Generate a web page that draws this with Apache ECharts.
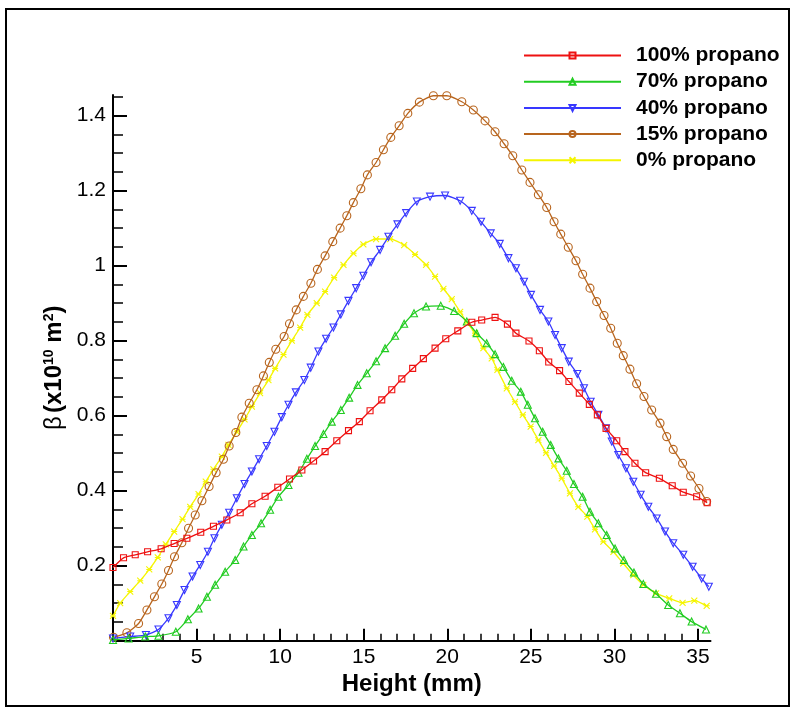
<!DOCTYPE html>
<html>
<head>
<meta charset="utf-8">
<script src="https://cdn.jsdelivr.net/npm/echarts@6/dist/echarts.min.js"></script>
<style>
html,body{margin:0;padding:0;background:#fff;}
#chart{width:795px;height:715px;}
</style>
</head>
<body>
<div id="chart"></div>
<script>
// ---- data ----
const seriesNames = ['100% propano', '70% propano', '40% propano', '15% propano', '0% propano'];

const heightRed = [0, 0.63, 1.33, 2.07, 2.88, 3.66, 4.42, 5.25, 6.01, 6.81, 7.61, 8.31, 9.1, 9.86, 10.56, 11.3, 12.0, 12.69, 13.39, 14.09, 14.74, 15.38, 16.08, 16.68, 17.28, 17.93, 18.57, 19.27, 19.91, 20.63, 21.47, 22.06, 22.86, 23.6, 24.11, 24.89, 25.51, 26.07, 26.72, 27.28, 27.9, 28.5, 28.98, 29.5, 30.14, 30.63, 31.23, 31.87, 32.69, 33.46, 34.12, 34.92, 35.55];
const betaRed = [0.195, 0.221, 0.229, 0.237, 0.245, 0.259, 0.273, 0.289, 0.305, 0.322, 0.341, 0.365, 0.385, 0.409, 0.431, 0.455, 0.479, 0.504, 0.533, 0.56, 0.584, 0.613, 0.642, 0.669, 0.698, 0.726, 0.752, 0.78, 0.805, 0.826, 0.849, 0.855, 0.862, 0.844, 0.82, 0.799, 0.773, 0.743, 0.72, 0.691, 0.66, 0.63, 0.602, 0.566, 0.533, 0.504, 0.473, 0.448, 0.433, 0.413, 0.396, 0.384, 0.368];

const heightGreen = [0, 0.93, 1.93, 2.72, 3.76, 4.48, 5.12, 5.62, 6.11, 6.71, 7.31, 7.81, 8.31, 8.86, 9.4, 9.9, 10.5, 11.1, 11.6, 12.09, 12.59, 13.09, 13.63, 14.13, 14.63, 15.18, 15.74, 16.28, 16.88, 17.42, 18.01, 18.73, 19.61, 20.41, 21.17, 21.76, 22.36, 22.86, 23.36, 23.86, 24.4, 24.82, 25.25, 25.71, 26.19, 26.65, 27.15, 27.58, 28.1, 28.54, 29.04, 29.54, 30.04, 30.57, 31.17, 31.73, 32.49, 33.22, 33.92, 34.62, 35.48];
const betaGreen = [0.002, 0.006, 0.011, 0.013, 0.024, 0.057, 0.086, 0.117, 0.149, 0.184, 0.215, 0.251, 0.282, 0.313, 0.349, 0.384, 0.415, 0.448, 0.485, 0.519, 0.551, 0.584, 0.615, 0.648, 0.682, 0.713, 0.745, 0.78, 0.813, 0.845, 0.873, 0.891, 0.893, 0.879, 0.851, 0.82, 0.793, 0.764, 0.73, 0.693, 0.664, 0.629, 0.593, 0.557, 0.522, 0.486, 0.453, 0.418, 0.384, 0.344, 0.313, 0.282, 0.246, 0.215, 0.182, 0.151, 0.125, 0.095, 0.073, 0.051, 0.030];

const heightBlue = [0, 1.03, 1.97, 2.72, 3.32, 3.82, 4.28, 4.76, 5.22, 5.68, 6.07, 6.51, 6.95, 7.41, 7.87, 8.31, 8.74, 9.2, 9.66, 10.1, 10.5, 10.94, 11.45, 11.83, 12.29, 12.75, 13.19, 13.63, 14.09, 14.55, 14.98, 15.44, 15.98, 16.48, 17.02, 17.54, 18.18, 18.97, 19.87, 20.77, 21.47, 22.02, 22.6, 23.14, 23.66, 24.11, 24.59, 25.01, 25.55, 26.05, 26.45, 26.85, 27.27, 27.78, 28.18, 28.58, 29.04, 29.5, 29.84, 30.23, 30.69, 31.13, 31.57, 32.03, 32.53, 33.03, 33.52, 34.12, 34.68, 35.22, 35.65];
const betaBlue = [0.006, 0.011, 0.015, 0.03, 0.06, 0.095, 0.135, 0.171, 0.202, 0.237, 0.273, 0.309, 0.341, 0.38, 0.418, 0.451, 0.484, 0.519, 0.557, 0.596, 0.629, 0.662, 0.695, 0.728, 0.771, 0.805, 0.835, 0.87, 0.906, 0.94, 0.973, 1.009, 1.042, 1.077, 1.11, 1.14, 1.171, 1.184, 1.187, 1.173, 1.146, 1.117, 1.086, 1.058, 1.02, 0.993, 0.957, 0.922, 0.882, 0.851, 0.815, 0.78, 0.744, 0.711, 0.673, 0.637, 0.602, 0.566, 0.531, 0.495, 0.46, 0.424, 0.389, 0.357, 0.326, 0.291, 0.26, 0.229, 0.197, 0.166, 0.144];

const heightBrown = [0.03, 0.83, 1.53, 2.03, 2.48, 2.92, 3.32, 3.68, 4.12, 4.52, 4.92, 5.32, 5.75, 6.17, 6.61, 6.95, 7.35, 7.71, 8.15, 8.61, 9.0, 9.35, 9.74, 10.24, 10.56, 10.96, 11.39, 11.84, 12.23, 12.69, 13.15, 13.59, 13.99, 14.38, 14.83, 15.22, 15.74, 16.18, 16.62, 17.12, 17.64, 18.33, 19.17, 19.97, 20.87, 21.56, 22.26, 22.86, 23.4, 23.92, 24.46, 24.95, 25.45, 25.95, 26.39, 26.79, 27.24, 27.7, 28.1, 28.54, 28.94, 29.38, 29.78, 30.17, 30.53, 30.93, 31.33, 31.77, 32.23, 32.73, 33.13, 33.52, 34.08, 34.56, 35.06, 35.52];
const betaBrown = [0.009, 0.021, 0.046, 0.082, 0.117, 0.151, 0.187, 0.224, 0.261, 0.3, 0.335, 0.373, 0.411, 0.448, 0.484, 0.519, 0.555, 0.596, 0.633, 0.669, 0.706, 0.742, 0.777, 0.811, 0.845, 0.882, 0.918, 0.953, 0.99, 1.026, 1.064, 1.1, 1.133, 1.168, 1.205, 1.242, 1.275, 1.309, 1.342, 1.373, 1.406, 1.436, 1.453, 1.453, 1.437, 1.415, 1.386, 1.357, 1.325, 1.293, 1.255, 1.222, 1.189, 1.155, 1.117, 1.084, 1.049, 1.013, 0.977, 0.94, 0.904, 0.867, 0.833, 0.793, 0.76, 0.724, 0.685, 0.651, 0.615, 0.58, 0.544, 0.51, 0.473, 0.439, 0.406, 0.371];

const heightYellow = [0, 0.43, 1.03, 1.63, 2.17, 2.68, 3.16, 3.66, 4.16, 4.62, 5.12, 5.55, 6.01, 6.51, 6.91, 7.41, 7.87, 8.31, 8.8, 9.3, 9.7, 10.2, 10.7, 11.2, 11.63, 12.19, 12.69, 13.23, 13.79, 14.39, 14.98, 15.74, 16.58, 17.42, 18.07, 18.73, 19.27, 19.77, 20.27, 20.77, 21.17, 21.66, 22.16, 22.66, 23.0, 23.56, 24.05, 24.52, 24.99, 25.45, 25.91, 26.39, 26.85, 27.34, 27.84, 28.38, 28.84, 29.34, 29.94, 30.53, 31.13, 31.73, 32.49, 33.28, 34.08, 34.78, 35.52];
const betaYellow = [0.066, 0.1, 0.131, 0.16, 0.19, 0.222, 0.257, 0.291, 0.324, 0.357, 0.391, 0.424, 0.457, 0.491, 0.522, 0.557, 0.59, 0.624, 0.66, 0.695, 0.726, 0.763, 0.8, 0.835, 0.869, 0.9, 0.931, 0.968, 1.002, 1.033, 1.057, 1.071, 1.071, 1.055, 1.03, 1.002, 0.971, 0.938, 0.911, 0.877, 0.849, 0.82, 0.78, 0.753, 0.722, 0.673, 0.637, 0.602, 0.571, 0.535, 0.501, 0.466, 0.433, 0.393, 0.357, 0.331, 0.297, 0.264, 0.237, 0.206, 0.175, 0.149, 0.126, 0.113, 0.101, 0.107, 0.093];

const xMajorTicks = [5, 10, 15, 20, 25, 30, 35];
const xMinorTicks = [1, 2, 3, 4, 6, 7, 8, 9, 11, 12, 13, 14, 16, 17, 18, 19, 21, 22, 23, 24, 26, 27, 28, 29, 31, 32, 33, 34];
const yMajorTicks = [0.2, 0.4, 0.6, 0.8, 1, 1.2, 1.4];
const yMinorTicks = [0.05, 0.1, 0.15, 0.25, 0.3, 0.35, 0.45, 0.5, 0.55, 0.65, 0.7, 0.75, 0.85, 0.9, 0.95, 1.05, 1.1, 1.15, 1.25, 1.3, 1.35, 1.45];

// ---- styling ----
const FONT = '"Liberation Sans", Arial, sans-serif';
const xs = [heightRed, heightGreen, heightBlue, heightBrown, heightYellow];
const ys = [betaRed, betaGreen, betaBlue, betaBrown, betaYellow];
const colors = ['#ee1111', '#22cc22', '#3838ff', '#b8651e', '#f5f500'];
const symbols = ['rect', 'triangle', 'triangle', 'circle', 'path://M0,0L10,10M10,0L0,10M0,5L10,5'];
const symbolRot = [0, 0, 180, 0, 0];
const symbolSizes = [6, 7, 7, 8, 6];

const series = seriesNames.map((name, i) => ({
  name: name,
  type: 'line',
  xAxisIndex: 0,
  yAxisIndex: 0,
  data: xs[i].map((x, k) => [x, ys[i][k]]),
  smooth: 0.2,
  symbol: symbols[i],
  symbolRotate: symbolRot[i],
  symbolSize: symbolSizes[i],
  showAllSymbol: true,
  lineStyle: { color: colors[i], width: 1.3 },
  itemStyle: { color: 'rgba(255,255,255,0)', borderColor: colors[i], borderWidth: 1.1 },
  emphasis: { disabled: true },
  z: 5 - i
}));

const chart = echarts.init(document.getElementById('chart'), null, { renderer: 'canvas' });
const grid = { left: 113, right: 84.5, top: 95, bottom: 74.3 };
chart.setOption({
  animation: false,
  backgroundColor: '#ffffff',
  grid: grid,
  legend: {
    orient: 'vertical',
    left: 523,
    top: 45,
    padding: 0,
    itemWidth: 97,
    itemHeight: 7.5,
    itemGap: 5.2,
    data: seriesNames,
    formatter: '{p|{name}}',
    textStyle: {
      color: '#000', fontSize: 21, fontWeight: 'bold', fontFamily: FONT,
      rich: { p: { padding: [0, 0, 0, 10], fontSize: 21, lineHeight: 20, fontWeight: 'bold', fontFamily: FONT, color: '#000' } }
    }
  },
  xAxis: [
    {
      type: 'value', min: 0, max: 35.75, position: 'bottom',
      splitLine: { show: false },
      axisLine: { show: true, lineStyle: { color: '#000', width: 2 } },
      axisTick: { show: true, inside: true, length: 12, customValues: xMajorTicks, lineStyle: { color: '#000', width: 2 } },
      axisLabel: { customValues: xMajorTicks, color: '#000', fontSize: 21, fontFamily: FONT, margin: 6 },
      name: 'Height (mm)', nameLocation: 'middle', nameGap: 22,
      nameTextStyle: { color: '#000', fontSize: 24, fontWeight: 'bold', fontFamily: FONT }
    },
    {
      type: 'value', min: 0, max: 35.75, position: 'bottom',
      splitLine: { show: false },
      axisLine: { show: false },
      axisTick: { show: true, inside: true, length: 7, customValues: xMinorTicks, lineStyle: { color: '#000', width: 1.5 } },
      axisLabel: { show: false }
    }
  ],
  yAxis: [
    {
      type: 'value', min: 0, max: 1.455, position: 'left',
      splitLine: { show: false },
      axisLine: { show: true, lineStyle: { color: '#000', width: 2 } },
      axisTick: { show: true, inside: true, length: 14, customValues: yMajorTicks, lineStyle: { color: '#000', width: 2 } },
      axisLabel: { customValues: yMajorTicks, color: '#000', fontSize: 21, fontFamily: FONT, margin: 7 },
      name: '{g|β} {b|(x10}{s|10}{b| m}{s|2}{b|)}',
      nameLocation: 'middle', nameRotate: 90, nameGap: 40,
      nameTextStyle: {
        color: '#000', fontFamily: FONT,
        rich: {
          g: { fontSize: 24, fontWeight: 'normal', fontFamily: FONT, color: '#000' },
          b: { fontSize: 24, fontWeight: 'bold', fontFamily: FONT, color: '#000' },
          s: { fontSize: 14, fontWeight: 'bold', fontFamily: FONT, color: '#000', verticalAlign: 'top' }
        }
      }
    },
    {
      type: 'value', min: 0, max: 1.455, position: 'left',
      splitLine: { show: false },
      axisLine: { show: false },
      axisTick: { show: true, inside: true, length: 10, customValues: yMinorTicks, lineStyle: { color: '#000', width: 1.5 } },
      axisLabel: { show: false }
    }
  ],
  graphic: [
    { type: 'rect', shape: { x: 6, y: 9, width: 783, height: 697 }, style: { fill: null, stroke: '#000', lineWidth: 2 }, silent: true }
  ],
  series: series
});
</script>
</body>
</html>
